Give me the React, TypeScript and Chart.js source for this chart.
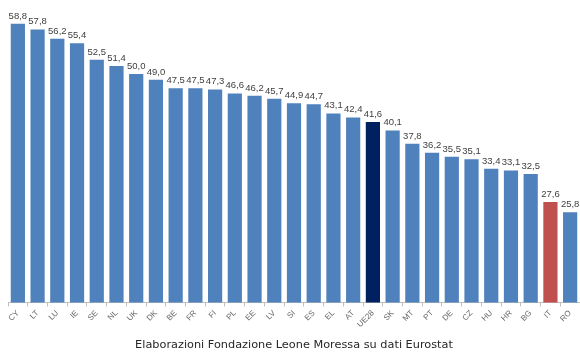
import React, { useEffect, useRef } from "react";
import { Chart, registerables } from "chart.js";

Chart.register(...registerables);

const countries = ["CY", "LT", "LU", "IE", "SE", "NL", "UK", "DK", "BE", "FR", "FI", "PL", "EE", "LV", "SI", "ES", "EL", "AT", "UE28", "SK", "MT", "PT", "DE", "CZ", "HU", "HR", "BG", "IT", "RO"];
const values = [58.8, 57.8, 56.2, 55.4, 52.5, 51.4, 50.0, 49.0, 47.5, 47.5, 47.3, 46.6, 46.2, 45.7, 44.9, 44.7, 43.1, 42.4, 41.6, 40.1, 37.8, 36.2, 35.5, 35.1, 33.4, 33.1, 32.5, 27.6, 25.8];
const highlightEU = "UE28";
const highlightIT = "IT";
const sourceNote = "Elaborazioni Fondazione Leone Moressa su dati Eurostat";

const BLUE = "#4f81bd";
const NAVY = "#002060";
const RED = "#c0504d";

const valueLabels = {
  id: "valueLabels",
  afterDatasetsDraw(chart: any) {
    const { ctx } = chart;
    const meta = chart.getDatasetMeta(0);
    ctx.save();
    ctx.font = "9.5px 'Liberation Sans', Arial, sans-serif";
    ctx.fillStyle = "#404040";
    ctx.textAlign = "center";
    ctx.textBaseline = "bottom";
    meta.data.forEach((bar: any, i: number) => {
      const txt = values[i].toFixed(1).replace(".", ",");
      ctx.fillText(txt, bar.x, bar.y - 3);
    });
    ctx.restore();
  },
};

export default function App() {
  const ref = useRef<HTMLCanvasElement>(null);

  useEffect(() => {
    document.body.style.margin = "0";
    const colors = countries.map((c) => (c === highlightEU ? NAVY : c === highlightIT ? RED : BLUE));
    const chart = new Chart(ref.current!, {
      type: "bar",
      data: {
        labels: countries,
        datasets: [
          {
            data: values,
            backgroundColor: colors,
            categoryPercentage: 1,
            barPercentage: 0.72,
          },
        ],
      },
      options: {
        animation: false,
        responsive: false,
        layout: { padding: { top: 17, left: 8, right: 0, bottom: 0 } },
        plugins: {
          legend: { display: false },
          tooltip: { enabled: false },
          title: {
            display: true,
            position: "bottom",
            text: sourceNote,
            color: "#262626",
            font: { family: "'DejaVu Sans', sans-serif", size: 11.3, weight: "normal" },
            padding: { top: 4, bottom: 2 },
          },
        },
        scales: {
          x: {
            offset: true,
            grid: {
              display: true,
              offset: true,
              drawOnChartArea: false,
              drawTicks: true,
              tickLength: 4,
              color: "#bfbfbf",
            },
            border: { display: true, color: "#bfbfbf" },
            ticks: {
              minRotation: 45,
              maxRotation: 45,
              autoSkip: false,
              color: "#6b6b6b",
              padding: 2,
              font: { family: "'Liberation Sans', Arial, sans-serif", size: 8 },
            },
            afterFit(scale: any) {
              scale.height = 32;
            },
          },
          y: {
            display: false,
            min: 10,
            max: 60,
          },
        },
      },
      plugins: [valueLabels],
    });
    return () => chart.destroy();
  }, []);

  return (
    <div style={{ width: 580, height: 354, background: "#fff" }}>
      <canvas ref={ref} width={580} height={354} style={{ display: "block" }} />
    </div>
  );
}
